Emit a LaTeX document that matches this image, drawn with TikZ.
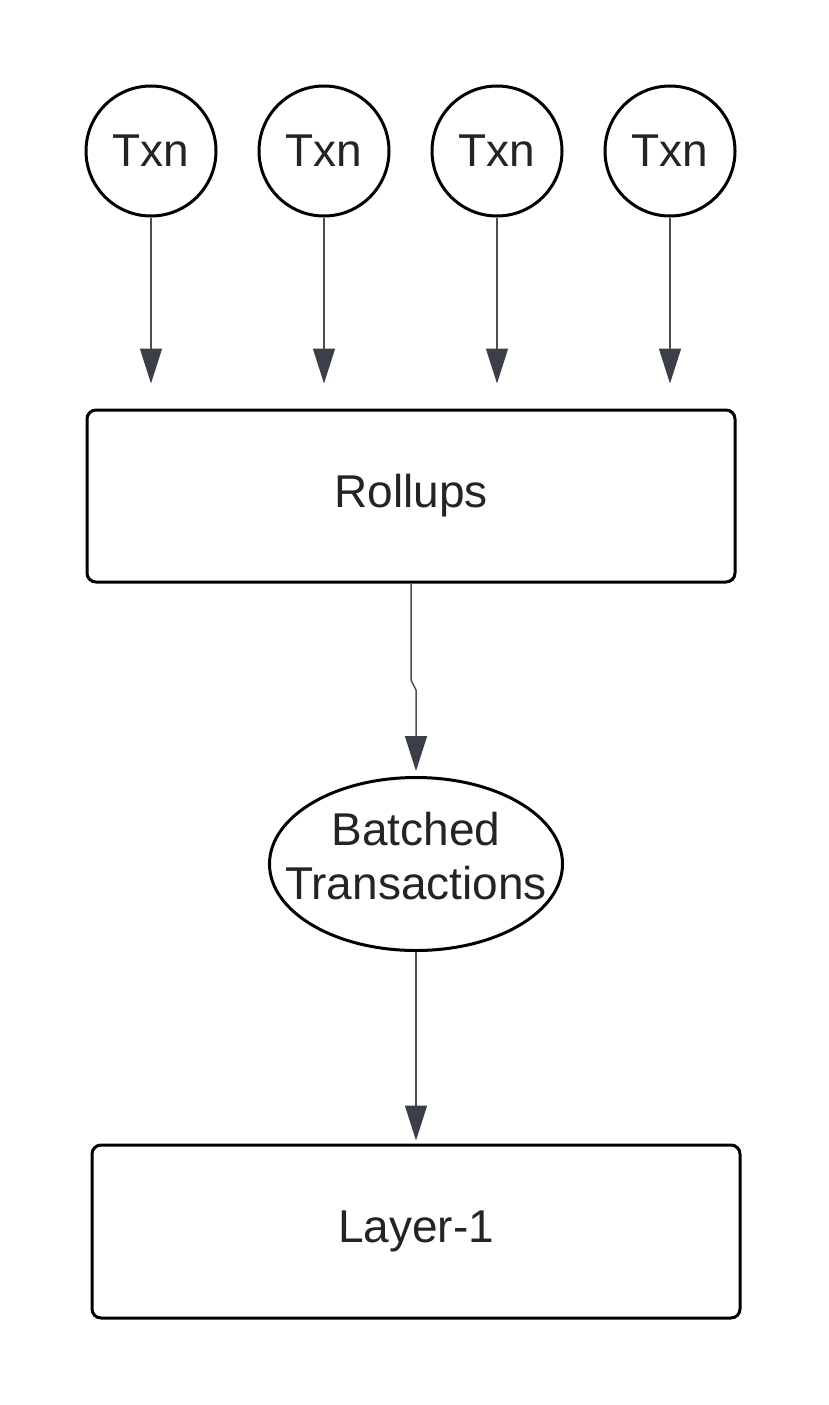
\documentclass[tikz,border=0pt]{standalone}
\usepackage{fontspec}
\setmainfont{Liberation Sans}
\usetikzlibrary{arrows.meta,shapes.geometric}
\definecolor{txt}{HTML}{222428}
\definecolor{tip}{HTML}{3A3F48}
\definecolor{conn}{HTML}{4A4D52}
\tikzset{
  bigtext/.style={font=\fontsize{46}{55}\selectfont,text=txt},
  txnnode/.style={circle,draw=black,line width=3pt,minimum size=130pt,inner sep=0pt,bigtext},
  boxnode/.style={rectangle,rounded corners=9pt,draw=black,line width=3pt,inner sep=0pt,bigtext},
  ellnode/.style={ellipse,draw=black,line width=3pt,minimum width=293pt,minimum height=173pt,inner sep=0pt},
  conline/.style={draw=conn,line width=1.5pt,-{Triangle[width=22pt,length=35pt,fill=tip,color=tip]}},
}
\begin{document}
\begin{tikzpicture}[x=1pt,y=-1pt]
\useasboundingbox (0,0) rectangle (828,1405);
\fill[white] (0,0) rectangle (828,1405);
\node[txnnode] (t1) at (151,151) {Txn};
\node[txnnode] (t2) at (324,151) {Txn};
\node[txnnode] (t3) at (497,151) {Txn};
\node[txnnode] (t4) at (670,151) {Txn};
\node[boxnode,minimum width=648pt,minimum height=172pt] (r) at (411,496) {\raisebox{3pt}{Rollups}};
\node[ellnode] (b) at (416,864) {};
\node[bigtext,align=center,inner sep=0pt] (bt) at (416,856) {Batched\\[-1pt]Transactions};
\node[boxnode,minimum width=648pt,minimum height=173pt] (l) at (416,1231.5) {Layer-1};
\coordinate (j1) at (411,680);
\coordinate (j2) at (416,690);
\foreach \t in {t1,t2,t3,t4}{
  \draw[conline,shorten >=25pt] (\t.south) -- (\t.south |- r.north);
}
\draw[conline,shorten >=5pt] (r.south) -- (j1) -- (j2) -- (b.north);
\draw[conline,shorten >=3pt] (b.south) -- (l.north);
\end{tikzpicture}
\end{document}
